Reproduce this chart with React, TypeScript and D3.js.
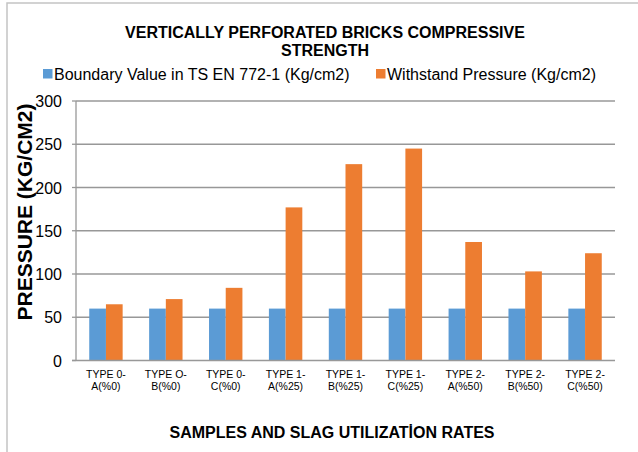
import React, { useEffect, useRef } from "react";
import * as d3 from "d3";

const categories = [
  ["TYPE 0-", "A(%0)"],
  ["TYPE O-", "B(%0)"],
  ["TYPE 0-", "C(%0)"],
  ["TYPE 1-", "A(%25)"],
  ["TYPE 1-", "B(%25)"],
  ["TYPE 1-", "C(%25)"],
  ["TYPE 2-", "A(%50)"],
  ["TYPE 2-", "B(%50)"],
  ["TYPE 2-", "C(%50)"],
];
const boundaryValues = [60, 60, 60, 60, 60, 60, 60, 60, 60];
const withstandValues = [65, 71, 84, 177, 227, 245, 137, 103, 124];
const yTicks = [0, 50, 100, 150, 200, 250, 300];
const seriesNames = ["Boundary Value in TS EN 772-1 (Kg/cm2)", "Withstand Pressure (Kg/cm2)"];
const titleLines = ["VERTICALLY PERFORATED BRICKS COMPRESSIVE", "STRENGTH"];
const xTitle = "SAMPLES AND SLAG UTILIZATİON RATES";
const yTitle = "PRESSURE (KG/CM2)";

const W = 638;
const H = 452;
const FONT = "'Liberation Sans', Arial, sans-serif";
const BLUE = "#5B9BD5";
const ORANGE = "#ED7D31";
const GRID = "#989898";

export default function App() {
  const ref = useRef<SVGSVGElement | null>(null);

  useEffect(() => {
    const svg = d3.select(ref.current);
    svg.selectAll("*").remove();

    const left = 76, right = 615, top = 101, bottom = 360.5;

    svg.append("rect").attr("width", W).attr("height", H).attr("fill", "#fff");
    svg.append("rect")
      .attr("x", 7).attr("y", 3).attr("width", W + 20).attr("height", H + 20)
      .attr("fill", "none").attr("stroke", "#c4c4c4").attr("stroke-width", 1.5);

    const x = d3.scaleBand<number>().domain(d3.range(categories.length)).range([left, right]);
    const y = d3.scaleLinear().domain([0, 300]).range([bottom, top]);
    const barW = 16.7;

    svg.append("g").selectAll("line").data(yTicks.filter((t) => t > 0)).join("line")
      .attr("x1", left).attr("x2", right)
      .attr("y1", (d) => y(d)).attr("y2", (d) => y(d))
      .attr("stroke", GRID).attr("stroke-width", 1.3);

    svg.append("g").selectAll("line").data(yTicks).join("line")
      .attr("x1", left - 4).attr("x2", left)
      .attr("y1", (d) => y(d)).attr("y2", (d) => y(d))
      .attr("stroke", GRID).attr("stroke-width", 1.3);

    const g = svg.append("g");
    g.selectAll("rect.b").data(boundaryValues).join("rect")
      .attr("class", "b")
      .attr("x", (_, i) => x(i)! + x.bandwidth() / 2 - barW)
      .attr("width", barW)
      .attr("y", (d) => y(d)).attr("height", (d) => y(0) - y(d))
      .attr("fill", BLUE);
    g.selectAll("rect.o").data(withstandValues).join("rect")
      .attr("class", "o")
      .attr("x", (_, i) => x(i)! + x.bandwidth() / 2)
      .attr("width", barW)
      .attr("y", (d) => y(d)).attr("height", (d) => y(0) - y(d))
      .attr("fill", ORANGE);

    svg.append("line").attr("x1", left).attr("x2", left).attr("y1", top).attr("y2", bottom)
      .attr("stroke", GRID).attr("stroke-width", 1.3);
    svg.append("line").attr("x1", left - 4).attr("x2", right).attr("y1", bottom).attr("y2", bottom)
      .attr("stroke", GRID).attr("stroke-width", 1.5);

    svg.append("g").selectAll("text").data(yTicks).join("text")
      .attr("x", 62).attr("y", (d) => y(d) + 6)
      .attr("text-anchor", "end")
      .attr("font-family", FONT).attr("font-size", 16).attr("fill", "#000")
      .text((d) => d);

    const xl = svg.append("g").selectAll("text").data(categories).join("text")
      .attr("text-anchor", "middle")
      .attr("font-family", FONT).attr("font-size", 10.5).attr("fill", "#000");
    xl.append("tspan").attr("x", (_, i) => x(i)! + x.bandwidth() / 2).attr("y", 377.5).text((d) => d[0]);
    xl.append("tspan").attr("x", (_, i) => x(i)! + x.bandwidth() / 2).attr("y", 389.5).text((d) => d[1]);

    svg.append("g").selectAll("text").data(titleLines).join("text")
      .attr("x", 325).attr("y", (_, i) => 38 + i * 18)
      .attr("text-anchor", "middle")
      .attr("font-family", FONT).attr("font-size", 16).attr("font-weight", "bold").attr("fill", "#000")
      .text((d) => d);

    const legendX = [43, 376];
    const colors = [BLUE, ORANGE];
    seriesNames.forEach((name, i) => {
      svg.append("rect").attr("x", legendX[i]).attr("y", 69).attr("width", 9.5).attr("height", 9.5)
        .attr("fill", colors[i]);
      svg.append("text").attr("x", legendX[i] + 11).attr("y", 79.5)
        .attr("font-family", FONT).attr("font-size", 16).attr("fill", "#000")
        .text(name);
    });

    svg.append("text").attr("x", 332).attr("y", 437.5).attr("text-anchor", "middle")
      .attr("font-family", FONT).attr("font-size", 16).attr("font-weight", "bold").attr("fill", "#000")
      .text(xTitle);

    svg.append("text")
      .attr("transform", `translate(31.5,212) rotate(-90)`)
      .attr("text-anchor", "middle")
      .attr("font-family", FONT).attr("font-size", 21).attr("font-weight", "bold").attr("fill", "#000")
      .text(yTitle);
  }, []);

  return (
    <svg
      ref={ref}
      width={W}
      height={H}
      style={{ position: "absolute", left: 0, top: 0, display: "block" }}
    />
  );
}
